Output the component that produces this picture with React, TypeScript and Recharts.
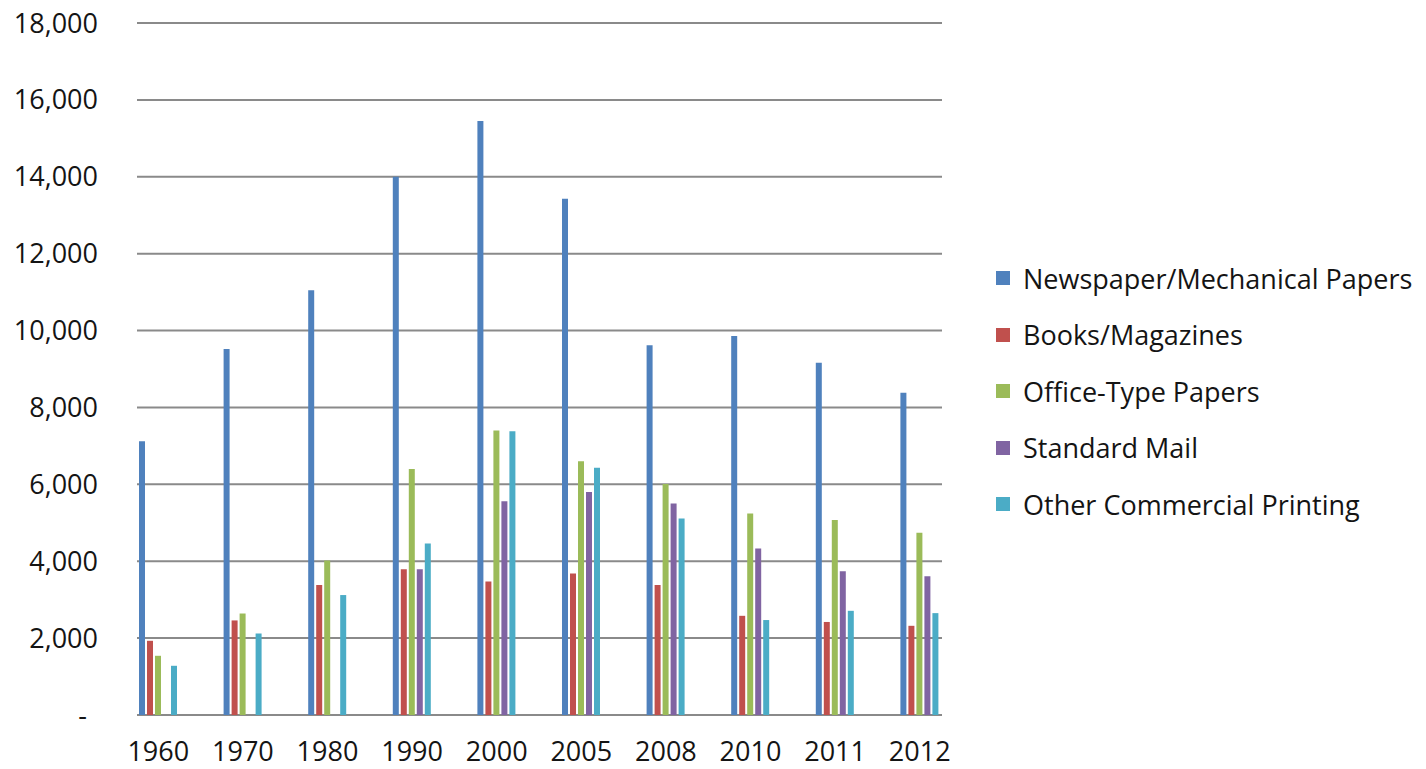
import React from 'react';
import { BarChart, Bar, XAxis, YAxis, CartesianGrid, Legend } from 'recharts';

// Paper consumption by grade, thousand tons
const years = ['1960', '1970', '1980', '1990', '2000', '2005', '2008', '2010', '2011', '2012'];
const newspaper = [7120, 9520, 11050, 14000, 15450, 13430, 9620, 9860, 9160, 8380];
const booksMagazines = [1930, 2460, 3380, 3790, 3470, 3680, 3380, 2580, 2420, 2320];
const officePapers = [1540, 2640, 4020, 6400, 7400, 6600, 6010, 5240, 5070, 4740];
const standardMail = [null, null, null, 3790, 5560, 5800, 5500, 4330, 3740, 3610];
const otherPrinting = [1280, 2120, 3120, 4460, 7380, 6430, 5110, 2470, 2710, 2650];

const yTicks = [0, 2000, 4000, 6000, 8000, 10000, 12000, 14000, 16000, 18000];

const seriesNames = [
  'Newspaper/Mechanical Papers',
  'Books/Magazines',
  'Office-Type Papers',
  'Standard Mail',
  'Other Commercial Printing',
];
const seriesKeys = ['newspaper', 'books', 'office', 'mail', 'other'];
const seriesColors = ['#4f81bd', '#c0504d', '#9bbb59', '#8064a2', '#4bacc6'];

const data = years.map((year, i) => ({
  year,
  newspaper: newspaper[i],
  books: booksMagazines[i],
  office: officePapers[i],
  mail: standardMail[i],
  other: otherPrinting[i],
}));

const FONT = '"Open Sans", sans-serif';
const TEXT = '#141414';
const GRID = '#8a8a8a';

const formatY = (v: number) => (v === 0 ? '-' : v.toLocaleString('en-US'));

const YTick = (props: any) => {
  const { y, payload } = props;
  const zero = payload.value === 0;
  return (
    <text
      x={zero ? 87 : 98}
      y={y}
      dy="0.355em"
      textAnchor="end"
      fontFamily={FONT}
      fontSize={27}
      fill={TEXT}
    >
      {formatY(payload.value)}
    </text>
  );
};

const XTick = (props: any) => {
  const { x, y, payload } = props;
  return (
    <text x={x} y={y + 38} textAnchor="middle" fontFamily={FONT} fontSize={27} fill={TEXT}>
      {payload.value}
    </text>
  );
};

// gridlines are inset from the category band edges
const GridLine = (props: any) => {
  const { x1, x2, y1, y2 } = props;
  return <line x1={x1 + 21} x2={x2 - 20} y1={y1} y2={y2} stroke={GRID} strokeWidth={2} />;
};

const LegendContent = (props: any) => {
  const items = [...(props.payload || [])].sort(
    (a: any, b: any) => seriesNames.indexOf(a.value) - seriesNames.indexOf(b.value)
  );
  return (
    <div style={{ fontFamily: FONT, fontSize: 27, color: TEXT }}>
      {items.map((entry: any) => (
        <div
          key={entry.value}
          style={{ display: 'flex', alignItems: 'center', height: 56.5, whiteSpace: 'nowrap' }}
        >
          <span
            style={{
              display: 'inline-block',
              width: 14,
              height: 14,
              background: entry.color,
              marginRight: 13,
            }}
          />
          <span>{entry.value}</span>
        </div>
      ))}
    </div>
  );
};

export default function App() {
  return (
    <div style={{ position: 'absolute', left: 0, top: 0, width: 1426, height: 769, background: '#fff' }}>
      <BarChart
        width={1426}
        height={769}
        data={data}
        margin={{ top: 23, right: 464, bottom: 0, left: 16 }}
        barSize={6}
        barGap={2}
      >
        <CartesianGrid vertical={false} horizontal={(p: any) => <GridLine key={p.key} {...p} />} />
        <XAxis
          dataKey="year"
          axisLine={false}
          tickLine={false}
          height={54}
          tick={<XTick />}
          interval={0}
        />
        <YAxis
          domain={[0, 18000]}
          ticks={yTicks}
          axisLine={false}
          tickLine={false}
          width={100}
          tick={<YTick />}
          interval={0}
        />
        <Legend
          layout="vertical"
          align="center"
          verticalAlign="middle"
          content={<LegendContent />}
          wrapperStyle={{ left: 996, top: 250, width: 430 }}
        />
        {seriesKeys.map((k, i) => (
          <Bar key={k} dataKey={k} name={seriesNames[i]} fill={seriesColors[i]} isAnimationActive={false} />
        ))}
      </BarChart>
    </div>
  );
}
